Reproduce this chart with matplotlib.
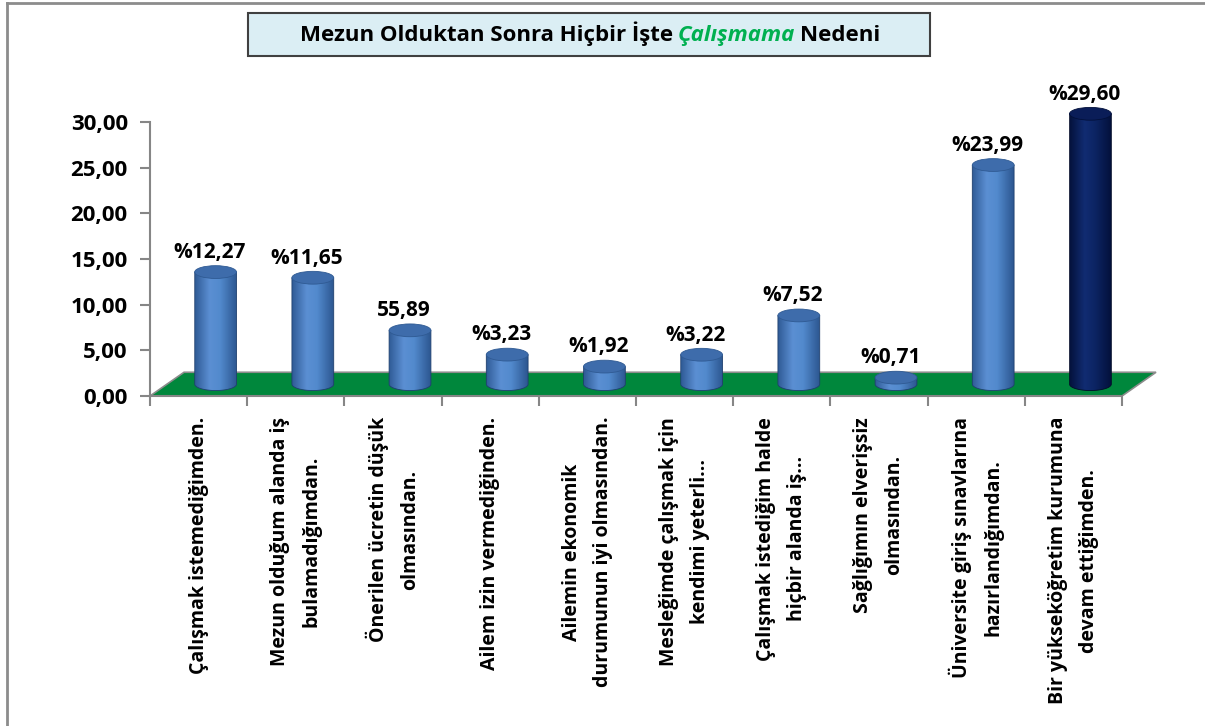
import matplotlib
matplotlib.use("Agg")
import matplotlib.pyplot as plt
import numpy as np
from matplotlib.patches import Polygon, Ellipse, Rectangle
from matplotlib.colors import LinearSegmentedColormap
from matplotlib.lines import Line2D

plt.rcParams['font.family'] = ['Open Sans', 'DejaVu Sans']
plt.rcParams['font.weight'] = 'bold'

# data
categories = [
    "Çalışmak istemediğimden.",
    "Mezun olduğum alanda iş\nbulamadığımdan.",
    "Önerilen ücretin düşük\nolmasından.",
    "Ailem izin vermediğinden.",
    "Ailemin ekonomik\ndurumunun iyi olmasından.",
    "Mesleğimde çalışmak için\nkendimi yeterli...",
    "Çalışmak istediğim halde\nhiçbir alanda iş...",
    "Sağlığımın elverişsiz\nolmasından.",
    "Üniversite giriş sınavlarına\nhazırlandığımdan.",
    "Bir yükseköğretim kurumuna\ndevam ettiğimden.",
]
values = [12.27, 11.65, 5.89, 3.23, 1.92, 3.22, 7.52, 0.71, 23.99, 29.60]
value_labels = ["%12,27", "%11,65", "55,89", "%3,23", "%1,92",
                "%3,22", "%7,52", "%0,71", "%23,99", "%29,60"]
highlight = [False] * 9 + [True]
yticks = [0, 5, 10, 15, 20, 25, 30]
title_parts = ["Mezun Olduktan Sonra Hiçbir İşte", "Çalışmama", "Nedeni"]

W, H = 1205, 726
n = len(values)
px_x = 97.2            # pixels per category
px_y = 274 / 30        # pixels per unit
xmax, ymax = n + 0.4, 33

fig = plt.figure(figsize=(W / 100, H / 100), dpi=100)
ax = fig.add_axes([150 / W, 1 - 396 / H, xmax * px_x / W, ymax * px_y / H])
ax.set_facecolor('none')

# outer frame (only top and left visible in the picture)
fig.add_artist(Line2D([6.5 / W, 6.5 / W], [0, 1 - 3 / H], color='#8C8C8C', lw=2))
fig.add_artist(Line2D([6.5 / W, 1], [1 - 3 / H, 1 - 3 / H], color='#8C8C8C', lw=2))

# green floor
depth_x, depth_y = 0.35, 2.6
ax.add_patch(Polygon([(0, 0), (n, 0), (n + depth_x, depth_y), (depth_x, depth_y)],
                     closed=True, facecolor='#00873C', edgecolor='#8C8C8C',
                     lw=1.2, zorder=1))

# cylinders
blue_cm = LinearSegmentedColormap.from_list(
    'b', [(0, '#2F5B96'), (0.35, '#5B8FD3'), (0.6, '#528ACD'), (1, '#2C5690')])
navy_cm = LinearSegmentedColormap.from_list(
    'n', [(0, '#04123D'), (0.35, '#112C72'), (0.6, '#0C2463'), (1, '#03103A')])
grad = np.linspace(0, 1, 200)[None, :]
bar_w, cap_h = 0.43, 1.4
theta = np.linspace(np.pi, 2 * np.pi, 60)

for i, v in enumerate(values):
    cx = i + 0.5 + depth_x / 2
    base = depth_y / 2
    top = base + v
    xs = cx + bar_w / 2 * np.cos(theta)
    ys = base + cap_h / 2 * np.sin(theta)
    verts = [(cx - bar_w / 2, top)] + list(zip(xs, ys)) + [(cx + bar_w / 2, top)]
    body = Polygon(verts, closed=True, facecolor='none',
                   edgecolor='#1F3F6E' if not highlight[i] else '#020B28',
                   lw=0.6, zorder=3)
    ax.add_patch(body)
    im = ax.imshow(grad, extent=[cx - bar_w / 2, cx + bar_w / 2, base - cap_h / 2, top],
                   cmap=navy_cm if highlight[i] else blue_cm, aspect='auto',
                   origin='lower', zorder=2)
    im.set_clip_path(body)
    ax.add_patch(Ellipse((cx, top), bar_w, cap_h,
                         facecolor='#0A1D58' if highlight[i] else '#3E6CAB',
                         edgecolor='#02103A' if highlight[i] else '#2F5A93',
                         lw=0.6, zorder=4))
    ax.text(cx - 0.06, top + cap_h / 2 + 0.85, value_labels[i], ha='center',
            va='baseline', fontsize=15, fontweight='bold', color='black')

ax.set_xlim(0, xmax)
ax.set_ylim(0, ymax)

# axes styling
for s in ['top', 'right']:
    ax.spines[s].set_visible(False)
ax.spines['left'].set_bounds(0, 30)
ax.spines['bottom'].set_bounds(0, n)
for s in ['left', 'bottom']:
    ax.spines[s].set_color('#868686')
    ax.spines[s].set_linewidth(1.5)

ax.set_yticks(yticks)
ax.set_yticklabels([f"{t:.2f}".replace('.', ',') for t in yticks],
                   fontsize=16, fontweight='bold')
ax.tick_params(axis='y', length=7, width=1.5, color='#868686', pad=9)

ax.set_xticks(np.arange(n + 1))
ax.set_xticklabels([''] * (n + 1))
ax.set_xticks(np.arange(n) + 0.5, minor=True)
ax.set_xticklabels(categories, minor=True, rotation=90, fontsize=14,
                   fontweight='bold', linespacing=1.75)
for lab in ax.get_xticklabels(minor=True):
    lab.set_multialignment('center')
ax.tick_params(axis='x', which='major', length=7, width=1.5, color='#868686')
ax.tick_params(axis='x', which='minor', length=0, pad=15)

# title box
fig.add_artist(Rectangle((248 / W, 1 - 56 / H), (930 - 248) / W, 43 / H,
                         transform=fig.transFigure, facecolor='#DBEEF4',
                         edgecolor='#404040', lw=1.5))
styles = [dict(color='black'), dict(color='#00B050', style='italic'), dict(color='black')]
texts = [fig.text(0, 1 - 41 / H, s, fontsize=16, fontweight='bold', va='baseline', **st)
         for s, st in zip(title_parts, styles)]
renderer = fig.canvas.get_renderer()
widths = [t.get_window_extent(renderer).width / W for t in texts]
space = 5 / W
x = 590 / W - (sum(widths) + space * 2) / 2
for t, w in zip(texts, widths):
    t.set_x(x)
    x += w + space

fig.savefig("out.png", dpi=100)
